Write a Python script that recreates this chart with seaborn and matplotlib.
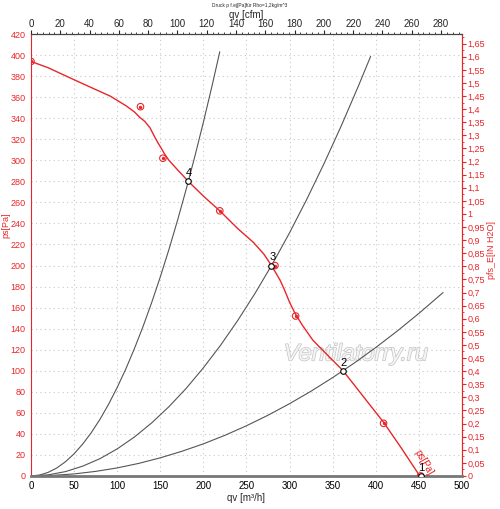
import numpy as np
import pandas as pd
import matplotlib
matplotlib.use("Agg")
import matplotlib.pyplot as plt
import seaborn as sns
from matplotlib.ticker import MultipleLocator, FuncFormatter
import matplotlib.patheffects as pe

# fan curve ps [Pa] over qv [m3/h]
fan_q = [0, 20, 41, 65, 92, 110, 120, 126, 132, 138, 143, 147, 150, 155, 160, 170, 182.5,
         200, 219, 240, 258, 270, 279, 284, 289, 294, 300, 306, 315, 327, 345, 362, 385,
         409, 430, 451]
fan_p = [394, 388, 380, 371, 361, 352, 346, 341, 337, 331, 323, 317, 313, 306, 300, 291, 280,
         266, 252, 235, 222, 211, 200, 193, 186, 177, 165, 155, 143, 129, 114, 100, 76,
         51, 26, 0]

# measured points on the fan curve
meas_q = [0, 127, 153, 219, 283, 307, 409, 452]
meas_p = [394, 351, 302, 252, 200, 152, 50, 0]

# system curves
sysA_q = [0, 10, 20, 30, 40, 50, 60, 70, 80, 90, 100, 110, 120, 130, 140, 150, 160, 170,
          180, 190, 200, 210, 219]
sysA_p = [0, 0.8, 3.4, 7.6, 13.5, 21.0, 30.3, 41.2, 53.8, 68.1, 84.1, 101.7, 121.1, 142.1,
          164.8, 189.2, 215.2, 243.0, 272.4, 303.5, 336.3, 370.7, 403.2]
sysB_q = [0, 20, 40, 60, 80, 100, 120, 140, 160, 180, 200, 220, 240, 260, 280, 300, 320,
          340, 360, 380, 394]
sysB_p = [0, 1.0, 4.1, 9.3, 16.4, 25.7, 37.0, 50.4, 65.8, 83.2, 102.8, 124.3, 148.0, 173.7,
          201.4, 231.2, 263.1, 297.0, 332.9, 371.0, 398.8]
sysC_q = [0, 25, 50, 75, 100, 125, 150, 175, 200, 225, 250, 275, 300, 325, 350, 375, 400,
          425, 450, 478]
sysC_p = [0, 0.5, 1.9, 4.3, 7.6, 11.9, 17.2, 23.4, 30.5, 38.6, 47.7, 57.7, 68.7, 80.6, 93.5,
          107.3, 122.1, 137.8, 154.5, 174.3]

# operating points
op_labels = ["1", "2", "3", "4"]
op_q = [452, 362, 279, 182.5]
op_p = [0, 100, 200, 280]

red = "#e8262a"

sns.set_style("white")
plt.rcParams['font.family'] = ['Liberation Sans', 'DejaVu Sans']

fig = plt.figure(figsize=(5, 5.09), dpi=100)
ax = fig.add_axes([0.062, 0.065, 0.862, 0.868])

ax.text(377, 116, "Ventilatorry.ru", fontsize=17, style="italic", color="#f4f4f4",
        ha="center", va="center", zorder=1,
        path_effects=[pe.withStroke(linewidth=1.0, foreground="#c4c4c4")])

for q, p in [(sysA_q, sysA_p), (sysB_q, sysB_p), (sysC_q, sysC_p)]:
    sns.lineplot(x=q, y=p, ax=ax, color="#555555", lw=0.8, sort=False, estimator=None)

sns.lineplot(x=fan_q, y=fan_p, ax=ax, color=red, lw=1.0, sort=False, estimator=None)
ax.scatter(meas_q, meas_p, s=22, facecolors="none", edgecolors=red, linewidths=0.8, zorder=4)
ax.scatter(meas_q, meas_p, s=2, color=red, zorder=4)

ax.scatter(op_q, op_p, s=16, facecolors="white", edgecolors="black", linewidths=0.8, zorder=5)
for lab, q, p in zip(op_labels, op_q, op_p):
    ax.text(q + 1, p + 3, lab, fontsize=8, color="black", ha="center", va="bottom", zorder=6)

ax.text(455, 13, "ps[Pa]", color=red, fontsize=7, rotation=-60, ha="center", va="center")

ax.set_xlim(0, 500)
ax.set_ylim(0, 420)
ax.xaxis.set_major_locator(MultipleLocator(50))
ax.yaxis.set_major_locator(MultipleLocator(20))
ax.yaxis.set_minor_locator(MultipleLocator(5))
ax.grid(True, which="major", color="#c8c8c8", linestyle=(0, (1, 3)), lw=0.8)

ax.tick_params(axis="x", labelsize=7, colors="black", length=3, direction="out", pad=1)
ax.tick_params(axis="y", which="both", labelsize=6.5, colors=red, direction="out", pad=1)
ax.tick_params(axis="y", which="major", length=3)
ax.tick_params(axis="y", which="minor", length=1.5)

ax.spines["left"].set_color(red)
ax.spines["right"].set_color(red)
ax.spines["top"].set_color("#444444")
ax.spines["bottom"].set_color("#777777")
ax.spines["bottom"].set_linewidth(2)
for s in ax.spines.values():
    s.set_visible(True)

ax.set_xlabel("qv [m³/h]", fontsize=7, labelpad=1)
ax.set_ylabel("")

top = ax.secondary_xaxis("top", functions=(lambda x: x * 0.5886, lambda x: x / 0.5886))
top.xaxis.set_major_locator(MultipleLocator(20))
top.xaxis.set_minor_locator(MultipleLocator(4))
top.tick_params(labelsize=7, length=3, pad=1)
top.tick_params(which="minor", length=1.5)
top.set_xlabel("qv [cfm]", fontsize=7, labelpad=0.5)

right = ax.secondary_yaxis("right", functions=(lambda y: y * 0.004015, lambda y: y / 0.004015))
right.yaxis.set_major_locator(MultipleLocator(0.05))
right.yaxis.set_minor_locator(MultipleLocator(0.025))
right.yaxis.set_major_formatter(FuncFormatter(lambda v, pos: f"{v:.2f}".rstrip("0").rstrip(".").replace(".", ",")))
right.tick_params(which="both", labelsize=6.5, colors=red, direction="out", pad=1)
right.tick_params(which="major", length=3)
right.tick_params(which="minor", length=1.5)
right.spines["right"].set_color(red)

# axis titles placed by figure coordinates to sit outside the tick labels
fig.text(6 / 500, 1 - 225 / 509, "ps[Pa]", fontsize=6.5, color=red, rotation=90,
         ha="center", va="center")
fig.text(492 / 500, 1 - 250 / 509, "pfs_E[IN H2O]", fontsize=6.5, color=red, rotation=90,
         ha="center", va="center")

fig.text(0.5, 0.99, "Druck p f.ej[Pa]für Rho=1,2kg/m^3", fontsize=3.5, ha="center", va="center")

fig.savefig("out.png", dpi=100)
